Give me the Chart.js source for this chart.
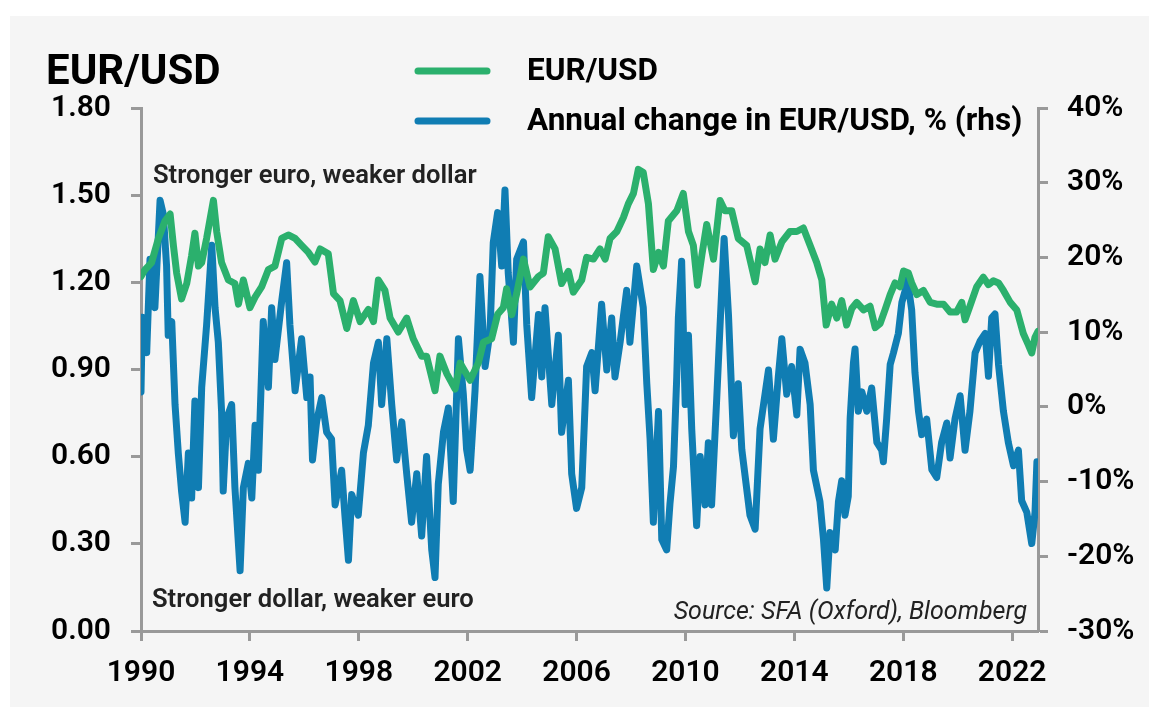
<!DOCTYPE html>
<html><head><meta charset="utf-8">
<script src="https://cdn.jsdelivr.net/npm/chart.js@4.4.0/dist/chart.umd.min.js"></script>
<style>html,body{margin:0;padding:0;background:#fff;}#wrap{width:1149px;height:707px;position:relative;}</style>
</head><body><div id="wrap"><canvas id="c" width="1149" height="707"></canvas></div>
<script>
// ---- DATA ----
const titleText = "EUR/USD";
const seriesLabels = ["EUR/USD", "Annual change in EUR/USD, % (rhs)"];
const topNote = "Stronger euro, weaker dollar";
const bottomNote = "Stronger dollar, weaker euro";
const sourceNote = "Source: SFA (Oxford), Bloomberg";

const xTickYears = [1990, 1994, 1998, 2002, 2006, 2010, 2014, 2018, 2022];
const leftTicks = [0, 0.3, 0.6, 0.9, 1.2, 1.5, 1.8];
const rightTicks = [-30, -20, -10, 0, 10, 20, 30, 40];

const eurYears = [1990.00,1990.15,1990.39,1990.64,1990.88,1991.07,1991.19,1991.31,1991.49,1991.68,1991.86,1991.98,1992.11,1992.23,1992.41,1992.66,1992.78,1992.96,1993.21,1993.45,1993.58,1993.76,1994.00,1994.19,1994.43,1994.68,1994.92,1995.17,1995.41,1995.66,1995.90,1996.15,1996.39,1996.58,1996.88,1997.07,1997.31,1997.56,1997.80,1998.05,1998.35,1998.54,1998.72,1998.96,1999.15,1999.45,1999.76,2000.00,2000.31,2000.49,2000.80,2000.98,2001.23,2001.54,2001.72,2002.09,2002.39,2002.58,2002.88,2003.10,2003.31,2003.43,2003.62,2003.80,2004.05,2004.29,2004.60,2004.78,2004.96,2005.21,2005.45,2005.70,2005.88,2006.19,2006.37,2006.62,2006.86,2007.05,2007.23,2007.48,2007.72,2007.90,2008.09,2008.27,2008.45,2008.64,2008.82,2009.01,2009.19,2009.37,2009.68,2009.92,2010.11,2010.29,2010.44,2010.60,2010.78,2011.03,2011.27,2011.45,2011.70,2011.94,2012.25,2012.56,2012.74,2012.92,2013.11,2013.29,2013.54,2013.84,2014.09,2014.33,2014.58,2014.82,2015.01,2015.17,2015.37,2015.56,2015.74,2015.92,2016.11,2016.29,2016.54,2016.78,2016.97,2017.15,2017.33,2017.52,2017.70,2017.88,2018.01,2018.19,2018.31,2018.50,2018.74,2018.99,2019.23,2019.48,2019.72,2019.96,2020.15,2020.27,2020.45,2020.70,2020.94,2021.13,2021.31,2021.50,2021.68,2021.93,2022.17,2022.41,2022.60,2022.72,2022.84,2022.95];
const eurValues = [1.22,1.244,1.268,1.351,1.411,1.435,1.327,1.232,1.143,1.196,1.292,1.369,1.256,1.268,1.351,1.482,1.375,1.268,1.208,1.196,1.125,1.208,1.113,1.149,1.184,1.244,1.256,1.351,1.363,1.351,1.327,1.303,1.27,1.315,1.298,1.161,1.137,1.041,1.137,1.065,1.107,1.065,1.208,1.172,1.077,1.029,1.077,1.006,0.946,0.946,0.827,0.946,0.886,0.833,0.922,0.863,0.922,0.994,1.006,1.09,1.113,1.178,1.089,1.161,1.280,1.184,1.220,1.232,1.357,1.315,1.196,1.238,1.166,1.208,1.286,1.280,1.315,1.280,1.351,1.375,1.423,1.470,1.506,1.589,1.578,1.470,1.244,1.303,1.256,1.411,1.446,1.506,1.375,1.327,1.190,1.292,1.399,1.280,1.482,1.446,1.446,1.351,1.327,1.202,1.315,1.268,1.363,1.280,1.339,1.375,1.375,1.387,1.327,1.268,1.208,1.053,1.125,1.077,1.137,1.053,1.11,1.131,1.105,1.118,1.044,1.058,1.105,1.158,1.198,1.185,1.239,1.232,1.198,1.158,1.172,1.131,1.125,1.125,1.098,1.098,1.131,1.071,1.118,1.185,1.218,1.192,1.205,1.198,1.172,1.131,1.105,1.024,0.984,0.957,1.011,1.031];

const chgYears = [1990.00,1990.05,1990.21,1990.33,1990.51,1990.70,1990.82,1990.94,1991.00,1991.13,1991.25,1991.37,1991.49,1991.62,1991.74,1991.86,1991.98,1992.11,1992.23,1992.41,1992.60,1992.72,1992.84,1992.96,1993.02,1993.15,1993.33,1993.45,1993.64,1993.76,1993.94,1994.07,1994.19,1994.31,1994.49,1994.68,1994.80,1994.92,1995.17,1995.35,1995.47,1995.66,1995.90,1996.09,1996.21,1996.30,1996.45,1996.64,1996.82,1997.00,1997.13,1997.37,1997.49,1997.62,1997.74,1997.98,1998.17,1998.35,1998.54,1998.72,1998.84,1999.03,1999.21,1999.39,1999.58,1999.76,1999.94,2000.13,2000.31,2000.49,2000.68,2000.80,2000.92,2001.11,2001.29,2001.47,2001.66,2001.84,2001.96,2002.09,2002.27,2002.45,2002.64,2002.82,2002.94,2003.10,2003.25,2003.37,2003.49,2003.68,2003.80,2004.05,2004.17,2004.35,2004.60,2004.72,2004.84,2005.09,2005.33,2005.45,2005.70,2005.82,2006.00,2006.19,2006.37,2006.56,2006.68,2006.92,2007.11,2007.29,2007.41,2007.60,2007.84,2007.96,2008.21,2008.45,2008.58,2008.70,2008.82,2009.01,2009.13,2009.31,2009.43,2009.56,2009.68,2009.74,2009.86,2009.99,2010.11,2010.23,2010.41,2010.54,2010.72,2010.84,2010.96,2011.15,2011.33,2011.42,2011.58,2011.76,2011.94,2012.07,2012.37,2012.56,2012.74,2013.05,2013.23,2013.41,2013.54,2013.72,2013.90,2014.09,2014.21,2014.39,2014.58,2014.70,2014.94,2015.07,2015.19,2015.31,2015.50,2015.62,2015.74,2015.86,2015.98,2016.05,2016.17,2016.23,2016.35,2016.48,2016.66,2016.84,2017.03,2017.21,2017.27,2017.39,2017.52,2017.64,2017.82,2017.95,2018.07,2018.13,2018.19,2018.31,2018.43,2018.56,2018.68,2018.86,2019.05,2019.23,2019.41,2019.60,2019.72,2019.90,2020.09,2020.27,2020.45,2020.64,2020.82,2021.01,2021.13,2021.25,2021.37,2021.50,2021.68,2021.86,2022.05,2022.23,2022.35,2022.54,2022.72,2022.84,2022.91,2022.95];
const chgValues = [2.0,12.0,7.26,19.76,13.28,27.64,25.78,18.84,9.57,11.42,0.31,-6.17,-11.27,-15.44,-6.17,-12.20,0.77,-10.81,2.63,10.96,21.62,13.28,8.65,-0.62,-11.27,-1.54,0.31,-10.81,-21.93,-10.81,-7.57,-12.20,-2.47,-8.49,11.42,2.63,13.28,6.33,14.20,19.30,10.96,2.16,9.11,1.24,4.0,-7.1,-2.0,1.24,-3.40,-4.32,-13.12,-8.49,-14.51,-20.53,-11.73,-14.51,-6.17,-2.47,5.87,8.65,0.31,9.11,0.31,-7.10,-2.01,-8.95,-15.44,-8.95,-17.29,-6.64,-19.15,-22.85,-10.35,-3.40,-0.15,-12.66,9.11,1.70,-5.71,-8.49,2.16,17.45,5.40,10.0,22.0,26.0,18.84,29.03,17.91,8.65,19.76,22.08,10.96,1.24,12.35,4.01,13.28,0.31,9.57,-3.40,3.55,-8.95,-13.59,-10.81,5.40,7.26,2.16,13.74,4.94,11.89,4.01,8.65,15.59,8.65,18.84,13.28,3.09,-4.32,-15.44,-0.62,-17.76,-19.15,-13.0,-8.0,4.01,12.0,19.5,0.31,9.57,-2.93,-15.90,-6.64,-13.12,-4.79,-13.12,1.24,15.59,22.54,12.35,-3.86,3.09,-5.71,-14.51,-16.37,-2.93,4.94,-4.32,4.01,9.11,1.70,5.40,-1.08,7.72,5.87,0.31,-8.49,-12.66,-17.76,-24.24,-16.83,-19.15,-12.66,-9.88,-14.51,-12.0,-1.54,5.87,7.74,-0.59,2.01,-0.59,2.53,-4.76,-5.80,-7.36,-1.64,5.66,7.22,9.82,13.99,15.55,17.0,16.07,12.95,4.61,-0.59,-3.72,-1.64,-8.40,-9.45,-4.76,-2.16,-6.84,-1.64,1.49,-5.80,-0.59,7.22,8.78,9.82,4.09,11.91,12.43,5.66,-0.59,-4.76,-7.88,-5.80,-12.57,-14.13,-18.30,-14.13,-7.36,-8.40];

// ---- STYLE ----
const GREEN = '#2bb06d';
const BLUE = '#107db3';
const AXIS = '#999999';
const FONT = 'Roboto, "Liberation Sans", Arial, sans-serif';

const bgPlugin = {
  id: 'bg',
  beforeDraw(chart) {
    const ctx = chart.ctx;
    ctx.save();
    ctx.fillStyle = '#ffffff';
    ctx.fillRect(0, 0, chart.width, chart.height);
    ctx.fillStyle = '#f5f5f5';
    ctx.fillRect(10, 16, chart.width - 10, chart.height - 16);
    ctx.restore();
  }
};

const overlayPlugin = {
  id: 'overlay',
  afterDraw(chart) {
    const ctx = chart.ctx;
    ctx.save();
    // title
    ctx.fillStyle = '#000';
    ctx.textBaseline = 'alphabetic';
    ctx.textAlign = 'left';
    ctx.font = 'bold 42px ' + FONT;
    ctx.fillText(titleText, 46, 84);
    // legend
    const rows = [71, 121];
    chart.data.datasets.forEach((ds, i) => {
      const y = rows[i];
      ctx.strokeStyle = ds.borderColor;
      ctx.lineWidth = 7;
      ctx.lineCap = 'round';
      ctx.beginPath();
      ctx.moveTo(418, y);
      ctx.lineTo(487, y);
      ctx.stroke();
      ctx.fillStyle = '#000';
      ctx.font = 'bold 31.5px ' + FONT;
      ctx.textBaseline = 'middle';
      ctx.fillText(ds.label, 527, y + 1);
    });
    // notes
    ctx.textBaseline = 'alphabetic';
    ctx.fillStyle = '#222';
    ctx.font = '600 25.6px ' + FONT;
    ctx.fillText(topNote, 153, 183);
    ctx.fillText(bottomNote, 152, 607);
    ctx.font = 'italic 25px ' + FONT;
    ctx.textAlign = 'right';
    ctx.fillText(sourceNote, 1027, 619);
    ctx.restore();
  }
};

const tickFont = { family: FONT, size: 30, weight: '600' };
const gridOpts = { drawOnChartArea: false, drawTicks: true, tickLength: 10, tickWidth: 3, tickColor: AXIS };

new Chart(document.getElementById('c'), {
  type: 'line',
  data: {
    datasets: [
      {
        label: seriesLabels[0],
        data: eurYears.map((x, i) => ({ x, y: eurValues[i] })),
        borderColor: GREEN, backgroundColor: GREEN,
        borderWidth: 7, pointRadius: 0, tension: 0,
        borderJoinStyle: 'round', borderCapStyle: 'round',
        yAxisID: 'y'
      },
      {
        label: seriesLabels[1],
        data: chgYears.map((x, i) => ({ x, y: chgValues[i] })),
        borderColor: BLUE, backgroundColor: BLUE,
        borderWidth: 7, pointRadius: 0, tension: 0,
        borderJoinStyle: 'round', borderCapStyle: 'round',
        yAxisID: 'y1'
      }
    ]
  },
  options: {
    responsive: false,
    animation: false,
    devicePixelRatio: 1,
    events: [],
    layout: { padding: { top: 108, left: 0, right: 0, bottom: 0 } },
    plugins: { legend: { display: false }, tooltip: { enabled: false }, title: { display: false } },
    scales: {
      x: {
        type: 'linear', position: 'bottom', min: 1990, max: 2022.95,
        afterBuildTicks: s => { s.ticks = xTickYears.map(v => ({ value: v })); },
        afterFit: s => { s.height = 76; },
        ticks: { autoSkip: false, maxRotation: 0, padding: 14, color: '#000', font: tickFont, callback: v => String(v) },
        grid: gridOpts,
        border: { display: true, color: AXIS, width: 3 }
      },
      y: {
        type: 'linear', position: 'left', min: 0, max: 1.8,
        afterBuildTicks: s => { s.ticks = leftTicks.map(v => ({ value: v })); },
        afterFit: s => { s.width = 141; },
        ticks: { padding: 20, color: '#000', font: tickFont, callback: v => Number(v).toFixed(2) },
        grid: gridOpts,
        border: { display: true, color: AXIS, width: 3 }
      },
      y1: {
        type: 'linear', position: 'right', min: -30, max: 40,
        afterBuildTicks: s => { s.ticks = rightTicks.map(v => ({ value: v })); },
        afterFit: s => { s.width = 111; },
        ticks: { padding: 19, color: '#000', font: tickFont, callback: v => v + '%' },
        grid: gridOpts,
        border: { display: true, color: AXIS, width: 3 }
      }
    }
  },
  plugins: [bgPlugin, overlayPlugin]
});
</script>
</body></html>
